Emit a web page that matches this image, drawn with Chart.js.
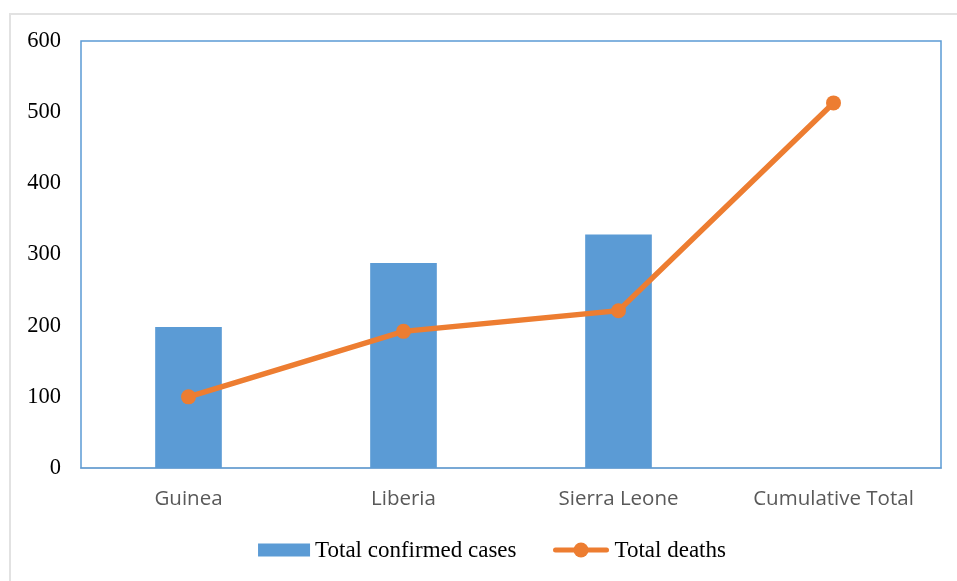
<!DOCTYPE html>
<html>
<head>
<meta charset="utf-8">
<script src="https://cdn.jsdelivr.net/npm/chart.js@4.4.1/dist/chart.umd.min.js"></script>
<style>
  html, body { margin: 0; padding: 0; background: #ffffff; overflow: hidden; }
  #wrap { position: relative; width: 957px; height: 581px; }
  #frame {
    position: absolute; left: 9px; top: 13px; width: 1000px; height: 700px;
    border-left: 2px solid #e2e2e2; border-top: 2px solid #e2e2e2;
  }
  canvas { position: absolute; left: 0; top: 0; }
</style>
</head>
<body>
<div id="wrap">
  <div id="frame"></div>
  <canvas id="chart" width="957" height="581"></canvas>
</div>
<script>
// Ebola outbreak summary by country
const categories = ['Guinea', 'Liberia', 'Sierra Leone', 'Cumulative Total'];
const confirmedCases = [198, 288, 328, null];
const totalDeaths = [100, 192, 221, 513];
const yTicks = [0, 100, 200, 300, 400, 500, 600];

const BLUE = '#5B9BD5';
const ORANGE = '#ED7D31';
const SERIF = '"Liberation Serif", "Times New Roman", serif';
const SANS = '"Open Sans", "Noto Sans", sans-serif';

// Frame round the plotting area
const plotFrame = {
  id: 'plotFrame',
  beforeDatasetsDraw(chart) {
    const a = chart.chartArea;
    const g = chart.ctx;
    g.save();
    g.strokeStyle = BLUE;
    g.lineWidth = 1.5;
    g.strokeRect(a.left, a.top, a.right - a.left, a.bottom - a.top);
    g.restore();
  }
};

// Legend drawn below the axis: a box for the bars, a line with a dot for the line series
const seriesLegend = {
  id: 'seriesLegend',
  afterDraw(chart, args, opts) {
    const g = chart.ctx;
    const font = '23px ' + SERIF;
    const symW = [52, 57];
    const textGap = 5;
    const itemGap = 36;
    g.save();
    g.font = font;
    const items = chart.data.datasets.map((ds, i) => ({
      ds, w: symW[i], tw: g.measureText(ds.label).width
    }));
    const total = items.reduce((s, it) => s + it.w + textGap + it.tw, 0) + itemGap * (items.length - 1);
    let x = opts.centerX - total / 2;
    const y = opts.centerY;
    items.forEach(it => {
      if (it.ds.type === 'bar') {
        g.fillStyle = it.ds.backgroundColor;
        g.fillRect(x, y - 6.5, it.w, 13);
      } else {
        g.strokeStyle = it.ds.borderColor;
        g.lineWidth = 5;
        g.lineCap = 'round';
        g.beginPath(); g.moveTo(x + 3, y); g.lineTo(x + it.w - 3, y); g.stroke();
        g.fillStyle = it.ds.borderColor;
        g.beginPath(); g.arc(x + it.w / 2, y, 7.5, 0, Math.PI * 2); g.fill();
      }
      x += it.w + textGap;
      g.fillStyle = '#000000';
      g.textBaseline = 'middle';
      g.textAlign = 'left';
      g.fillText(it.ds.label, x, y + 1);
      x += it.tw + itemGap;
    });
    g.restore();
  }
};

new Chart(document.getElementById('chart'), {
  data: {
    labels: categories,
    datasets: [
      {
        type: 'bar',
        label: 'Total confirmed cases',
        data: confirmedCases,
        backgroundColor: BLUE,
        barPercentage: 0.31,
        categoryPercentage: 1.0,
        order: 1
      },
      {
        type: 'line',
        label: 'Total deaths',
        data: totalDeaths,
        borderColor: ORANGE,
        backgroundColor: ORANGE,
        borderWidth: 5.5,
        pointRadius: 7.5,
        pointHoverRadius: 7.5,
        pointBackgroundColor: ORANGE,
        pointBorderWidth: 0,
        tension: 0,
        order: 0
      }
    ]
  },
  options: {
    responsive: false,
    animation: false,
    layout: { padding: { left: 0, top: 41, right: 16, bottom: 63 } },
    scales: {
      x: {
        grid: { display: false, drawTicks: false },
        border: { display: true, color: '#d0d3d8', width: 2 },
        ticks: { color: '#595959', font: { family: SANS, size: 20.5 }, padding: 19 },
        afterFit(scale) { scale.height = 50; }
      },
      y: {
        min: 0,
        max: 600,
        grid: { display: false, drawTicks: false },
        border: { display: false },
        afterBuildTicks(scale) { scale.ticks = yTicks.map(v => ({ value: v })); },
        ticks: { color: '#000000', font: { family: SERIF, size: 22.5 }, padding: 20 },
        afterFit(scale) { scale.width = 81; }
      }
    },
    plugins: {
      tooltip: { enabled: false },
      legend: { display: false },
      seriesLegend: { centerX: 492, centerY: 550 }
    }
  },
  plugins: [plotFrame, seriesLegend]
});
</script>
</body>
</html>
